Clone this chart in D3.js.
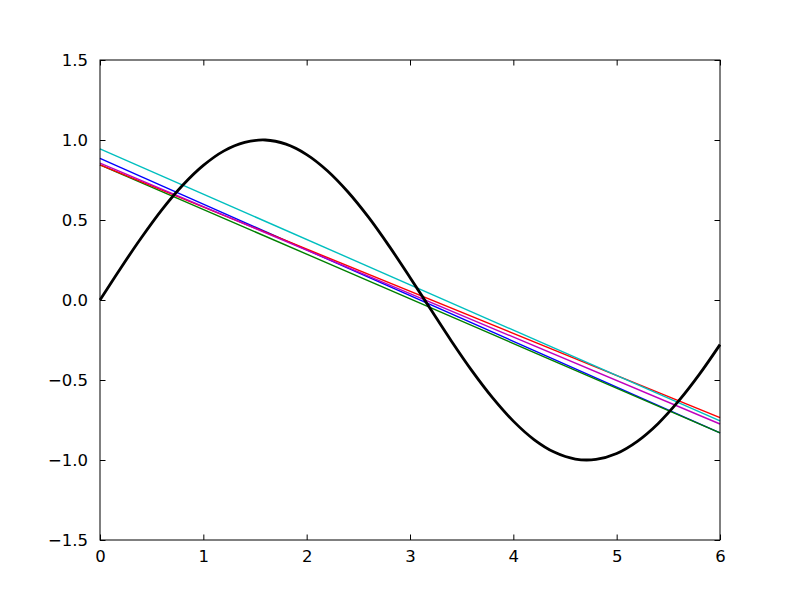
<!DOCTYPE html>
<html>
<head>
<meta charset="utf-8">
<script src="https://cdn.jsdelivr.net/npm/d3@7"></script>
<style>
  body { margin: 0; background: #fff; }
  .axis text { font-family: "DejaVu Sans", sans-serif; font-size: 16.5px; fill: #000; }
  .axis path { display: none; }
  .axis line { stroke: #000; stroke-width: 1; }
</style>
</head>
<body>
<div id="chart"></div>
<script>
// sine curve
var sineX = [0, 0.2, 0.4, 0.6, 0.8, 1.0, 1.2, 1.4, 1.6, 1.8, 2.0, 2.2, 2.4, 2.6, 2.8, 3.0,
             3.2, 3.4, 3.6, 3.8, 4.0, 4.2, 4.4, 4.6, 4.8, 5.0, 5.2, 5.4, 5.6, 5.8, 6.0];
var sineY = [0, 0.199, 0.389, 0.565, 0.717, 0.841, 0.932, 0.985, 1.000, 0.974, 0.909, 0.808,
             0.675, 0.516, 0.335, 0.141, -0.058, -0.256, -0.443, -0.612, -0.757, -0.872,
             -0.952, -0.994, -0.996, -0.959, -0.883, -0.773, -0.631, -0.465, -0.279];

// straight fitted lines: start value at x=0, end value at x=6
var lineColors = ["#0000ff", "#008000", "#ff0000", "#00bfbf", "#bf00bf"];
var lineStart  = [0.885, 0.845, 0.845, 0.945, 0.855];
var lineEnd    = [-0.83, -0.83, -0.735, -0.755, -0.775];
var lineX      = [0, 6];

var xTicks = [0, 1, 2, 3, 4, 5, 6];
var yTicks = [-1.5, -1.0, -0.5, 0.0, 0.5, 1.0, 1.5];

var w = 800, h = 600;
var margin = {top: 60, right: 80, bottom: 60, left: 100};

var svg = d3.select("#chart").append("svg")
	.attr("width", w)
	.attr("height", h)

var x = d3.scaleLinear()
	.domain([0, 6])
	.range([margin.left, w - margin.right])

var y = d3.scaleLinear()
	.domain([-1.5, 1.5])
	.range([h - margin.bottom, margin.top])

var fmt = function(d) { return d3.format(".1f")(d).replace("-", "\u2212"); };

var plot = svg.append("g")

var line = d3.line()
	.x(function(d) { return x(d[0]) })
	.y(function(d) { return y(d[1]) })

lineColors.forEach(function(c, i) {
	plot.append("path")
		.datum([[lineX[0], lineStart[i]], [lineX[1], lineEnd[i]]])
		.attr("d", line)
		.style("fill", "none")
		.style("stroke", c)
		.style("stroke-width", 1.4)
})

var sinePts = sineX.map(function(v, i) { return [v, sineY[i]]; });

plot.append("path")
	.datum(sinePts)
	.attr("d", line.curve(d3.curveCatmullRom))
	.style("fill", "none")
	.style("stroke", "#000")
	.style("stroke-width", 2.8)
	.style("stroke-linejoin", "round")

// axes, ticks pointing inward on all four sides
var tk = 5.5;

svg.append("g").attr("class", "axis")
	.attr("transform", "translate(0," + y(-1.5) + ")")
	.call(d3.axisBottom(x).tickValues(xTicks).tickSize(-tk).tickPadding(10).tickFormat(d3.format("d")))

svg.append("g").attr("class", "axis")
	.attr("transform", "translate(0," + y(1.5) + ")")
	.call(d3.axisTop(x).tickValues(xTicks).tickSize(-tk).tickFormat(""))

svg.append("g").attr("class", "axis")
	.attr("transform", "translate(" + x(0) + ",0)")
	.call(d3.axisLeft(y).tickValues(yTicks).tickSize(-tk).tickPadding(12).tickFormat(fmt))

svg.append("g").attr("class", "axis")
	.attr("transform", "translate(" + x(6) + ",0)")
	.call(d3.axisRight(y).tickValues(yTicks).tickSize(-tk).tickFormat(""))

// frame
svg.append("rect")
	.attr("x", x(0))
	.attr("y", y(1.5))
	.attr("width", x(6) - x(0))
	.attr("height", y(-1.5) - y(1.5))
	.style("fill", "none")
	.style("stroke", "#000")
	.style("stroke-width", 1)
</script>
</body>
</html>
